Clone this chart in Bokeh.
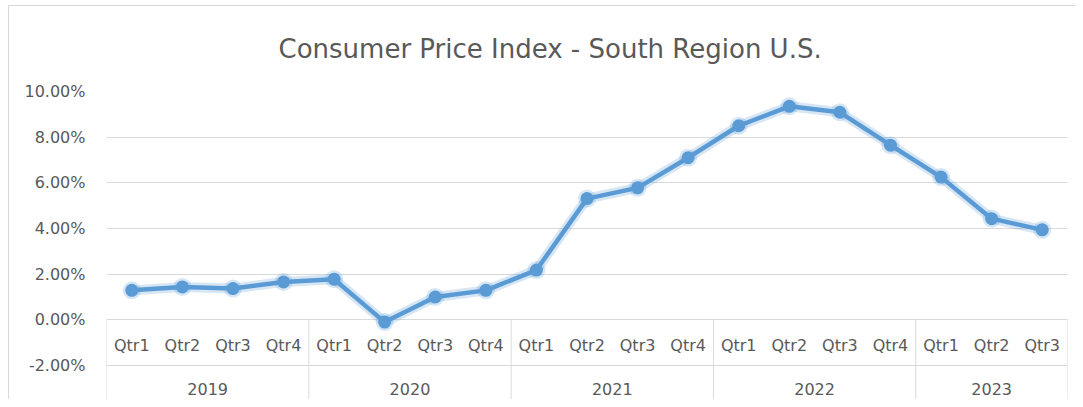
import numpy as np
from bokeh.plotting import figure
from bokeh.models import Range1d, FixedTicker, PrintfTickFormatter, ColumnDataSource
from bokeh.core.properties import value
from bokeh.embed import file_html
from bokeh.resources import INLINE

years = ["2019", "2020", "2021", "2022", "2023"]
quarters_per_year = [4, 4, 4, 4, 3]
quarters = ["Qtr1", "Qtr2", "Qtr3", "Qtr4"] * 4 + ["Qtr1", "Qtr2", "Qtr3"]
cpi = [1.29, 1.44, 1.37, 1.66, 1.78, -0.10, 1.00, 1.29,
       2.18, 5.31, 5.78, 7.10, 8.50, 9.35, 9.09, 7.65,
       6.25, 4.43, 3.94]
y_ticks = [-2, 0, 2, 4, 6, 8, 10]

BLUE = "#5B9BD5"
GREY = "#595959"
GRID = "#D9D9D9"
FONT = "DejaVu Sans"
Y_BOTTOM = -3.49

n = len(cpi)
x = np.arange(n) + 0.5
src = ColumnDataSource(dict(x=x, y=cpi, q=quarters))

p = figure(width=1075, height=399, output_backend="svg", toolbar_location=None,
           x_range=Range1d(0, n), y_range=Range1d(Y_BOTTOM, 10),
           min_border_left=106, min_border_right=8, min_border_top=91, min_border_bottom=0)
p.outline_line_color = None
p.border_fill_color = None
p.background_fill_color = "white"
p.styles = {"background": "linear-gradient(#D9D9D9,#D9D9D9) 8px 5px / 1067px 1px no-repeat, "
                          "linear-gradient(#D9D9D9,#D9D9D9) 8px 5px / 1px 394px no-repeat, white"}

p.title.text = "Consumer Price Index - South Region U.S."
p.title.align = "left"
p.title.offset = 172
p.title.standoff = 56
p.title.text_font = FONT
p.title.text_font_style = "normal"
p.title.text_font_size = "26px"
p.title.text_color = GREY

p.xaxis.visible = False
p.xgrid.visible = False
p.yaxis.ticker = FixedTicker(ticks=y_ticks)
p.yaxis.formatter = PrintfTickFormatter(format="%.2f%%")
p.yaxis.axis_line_color = None
p.yaxis.major_tick_line_color = None
p.yaxis.major_tick_out = 0
p.yaxis.major_tick_in = 0
p.yaxis.minor_tick_line_color = None
p.yaxis.major_label_standoff = 21
p.yaxis.major_label_text_font = FONT
p.yaxis.major_label_text_font_size = "16px"
p.yaxis.major_label_text_color = GREY
p.ygrid.ticker = FixedTicker(ticks=y_ticks)
p.ygrid.grid_line_color = GRID
p.ygrid.grid_line_width = 1

# category axis box separators
bounds = np.concatenate([[0], np.cumsum(quarters_per_year)])
p.segment(x0=bounds, y0=0, x1=bounds, y1=Y_BOTTOM, line_color=GRID, line_width=1)

# quarter labels
p.text(x="x", y=-1.14, text="q", source=src, text_align="center", text_baseline="middle",
       text_font=value(FONT), text_font_size="16px", text_color=GREY)
# year labels
centers = (bounds[:-1] + bounds[1:]) / 2
p.text(x=centers, y=-3.05, text=years, text_align="center", text_baseline="middle",
       text_font=value(FONT), text_font_size="16px", text_color=GREY)

# glow
p.line("x", "y", source=src, line_color=BLUE, line_alpha=0.25, line_width=10, line_join="round")
p.scatter("x", "y", source=src, size=18, fill_color=BLUE, fill_alpha=0.25, line_color=None)
# main line
p.line("x", "y", source=src, line_color=BLUE, line_width=4.5, line_join="round")
p.scatter("x", "y", source=src, size=13, fill_color=BLUE, line_color=None)

open("out.html", "w").write(file_html(p, INLINE))
